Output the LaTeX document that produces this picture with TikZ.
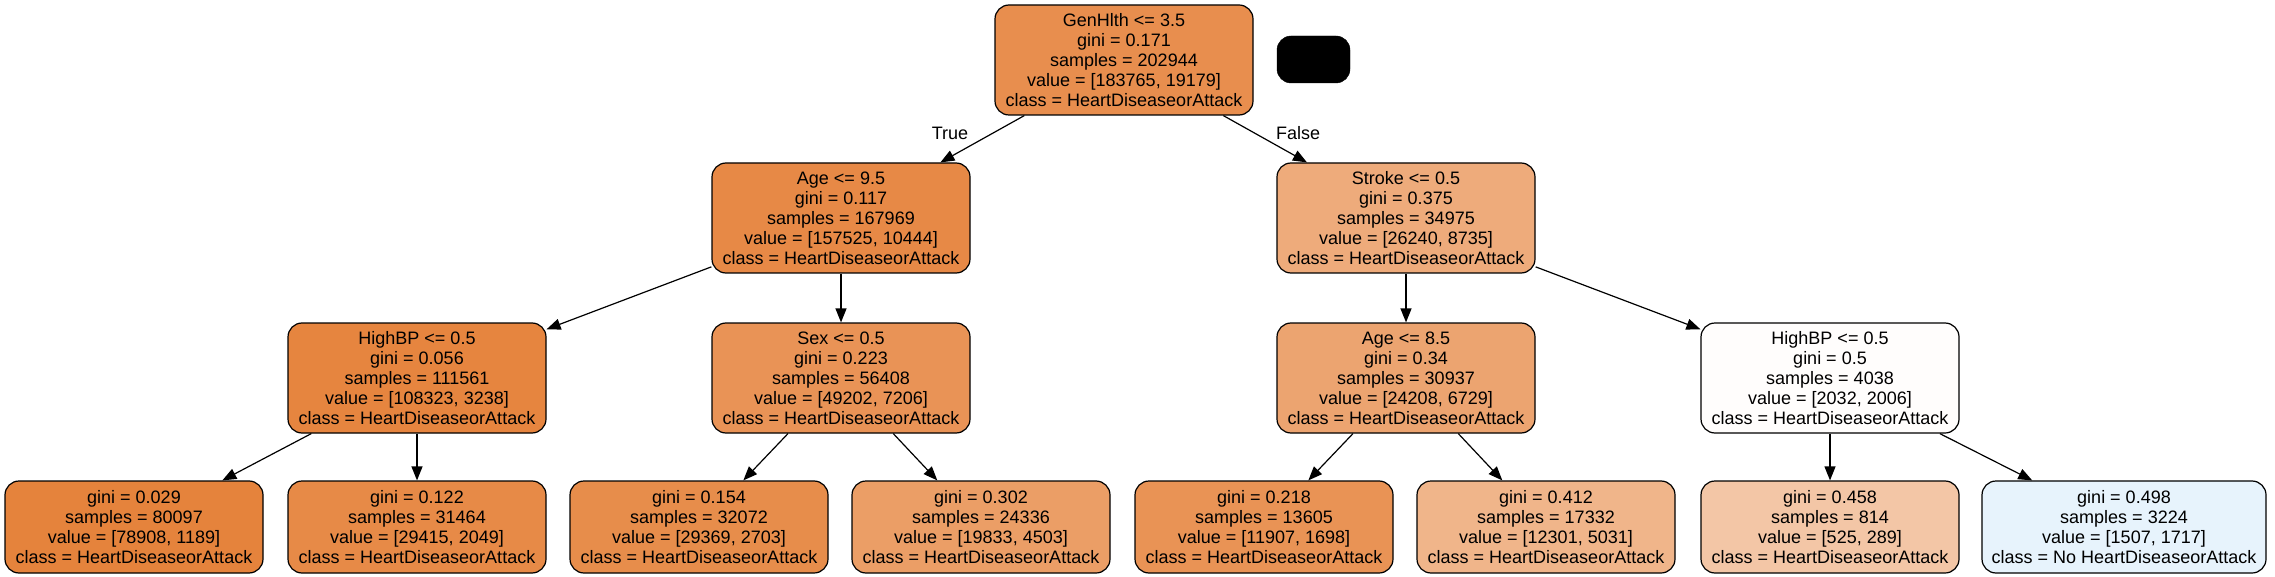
\documentclass[tikz,border=0pt]{standalone}
\usepackage{fontspec}
\setmainfont{Liberation Sans}
\usetikzlibrary{arrows.meta}
\definecolor{cRoot}{RGB}{232,142,78}
\definecolor{cAgeA}{RGB}{231,137,70}
\definecolor{cStroke}{RGB}{238,171,123}
\definecolor{cHbpA}{RGB}{230,133,63}
\definecolor{cSex}{RGB}{233,147,86}
\definecolor{cAgeB}{RGB}{236,164,112}
\definecolor{cHbpB}{RGB}{255,253,252}
\definecolor{cLa}{RGB}{229,131,60}
\definecolor{cLb}{RGB}{231,138,71}
\definecolor{cLc}{RGB}{231,141,75}
\definecolor{cLd}{RGB}{235,158,102}
\definecolor{cLe}{RGB}{233,147,85}
\definecolor{cLf}{RGB}{240,181,138}
\definecolor{cLg}{RGB}{243,198,166}
\definecolor{cLh}{RGB}{231,243,252}
\begin{document}
\begin{tikzpicture}[x=1pt,y=-1pt,
  tn/.style={draw=black, line width=1.2pt, rounded corners=14pt, inner sep=0pt,
    align=center, font=\fontsize{18}{20}\selectfont,
    minimum width=258pt, minimum height=110pt},
  lf/.style={tn, minimum height=92pt},
  ed/.style={-{Triangle[length=14pt,width=11pt]}, line width=1.2pt},
  el/.style={inner sep=0pt, font=\fontsize{18}{20}\selectfont}]
\useasboundingbox (0,0) rectangle (2275,577);

% level 1
\node[tn, fill=cRoot] (root) at (1124,60) {GenHlth <= 3.5\\gini = 0.171\\samples = 202944\\value = [183765, 19179]\\class = HeartDiseaseorAttack};
\node[fill=black, draw=black, rounded corners=14pt, inner sep=0pt, minimum width=73pt, minimum height=47pt] (legend) at (1313.5,59.5) {};

% level 2
\node[tn, fill=cAgeA] (age1) at (841,218) {Age <= 9.5\\gini = 0.117\\samples = 167969\\value = [157525, 10444]\\class = HeartDiseaseorAttack};
\node[tn, fill=cStroke] (stroke) at (1406,218) {Stroke <= 0.5\\gini = 0.375\\samples = 34975\\value = [26240, 8735]\\class = HeartDiseaseorAttack};

% level 3
\node[tn, fill=cHbpA] (hbp1) at (417,378) {HighBP <= 0.5\\gini = 0.056\\samples = 111561\\value = [108323, 3238]\\class = HeartDiseaseorAttack};
\node[tn, fill=cSex] (sex) at (841,378) {Sex <= 0.5\\gini = 0.223\\samples = 56408\\value = [49202, 7206]\\class = HeartDiseaseorAttack};
\node[tn, fill=cAgeB] (age2) at (1406,378) {Age <= 8.5\\gini = 0.34\\samples = 30937\\value = [24208, 6729]\\class = HeartDiseaseorAttack};
\node[tn, fill=cHbpB] (hbp2) at (1830,378) {HighBP <= 0.5\\gini = 0.5\\samples = 4038\\value = [2032, 2006]\\class = HeartDiseaseorAttack};

% leaves
\node[lf, fill=cLa] (l1) at (134,527) {gini = 0.029\\samples = 80097\\value = [78908, 1189]\\class = HeartDiseaseorAttack};
\node[lf, fill=cLb] (l2) at (417,527) {gini = 0.122\\samples = 31464\\value = [29415, 2049]\\class = HeartDiseaseorAttack};
\node[lf, fill=cLc] (l3) at (699,527) {gini = 0.154\\samples = 32072\\value = [29369, 2703]\\class = HeartDiseaseorAttack};
\node[lf, fill=cLd] (l4) at (981,527) {gini = 0.302\\samples = 24336\\value = [19833, 4503]\\class = HeartDiseaseorAttack};
\node[lf, fill=cLe] (l5) at (1264,527) {gini = 0.218\\samples = 13605\\value = [11907, 1698]\\class = HeartDiseaseorAttack};
\node[lf, fill=cLf] (l6) at (1546,527) {gini = 0.412\\samples = 17332\\value = [12301, 5031]\\class = HeartDiseaseorAttack};
\node[lf, fill=cLg] (l7) at (1830,527) {gini = 0.458\\samples = 814\\value = [525, 289]\\class = HeartDiseaseorAttack};
\node[lf, fill=cLh, minimum width=284pt] (l8) at (2124,527) {gini = 0.498\\samples = 3224\\value = [1507, 1717]\\class = No HeartDiseaseorAttack};

% edges
\draw[ed] (root) -- (age1);
\draw[ed] (root) -- (stroke);
\draw[ed] (age1) -- (hbp1);
\draw[ed] (age1) -- (sex);
\draw[ed] (stroke) -- (age2);
\draw[ed] (stroke) -- (hbp2);
\draw[ed] (hbp1) -- (l1);
\draw[ed] (hbp1) -- (l2);
\draw[ed] (sex) -- (l3);
\draw[ed] (sex) -- (l4);
\draw[ed] (age2) -- (l5);
\draw[ed] (age2) -- (l6);
\draw[ed] (hbp2) -- (l7);
\draw[ed] (hbp2) -- (l8);

% edge labels
\node[el] (ltrue) at (950,133) {True};
\node[el] (lfalse) at (1298,133) {False};
\end{tikzpicture}
\end{document}
